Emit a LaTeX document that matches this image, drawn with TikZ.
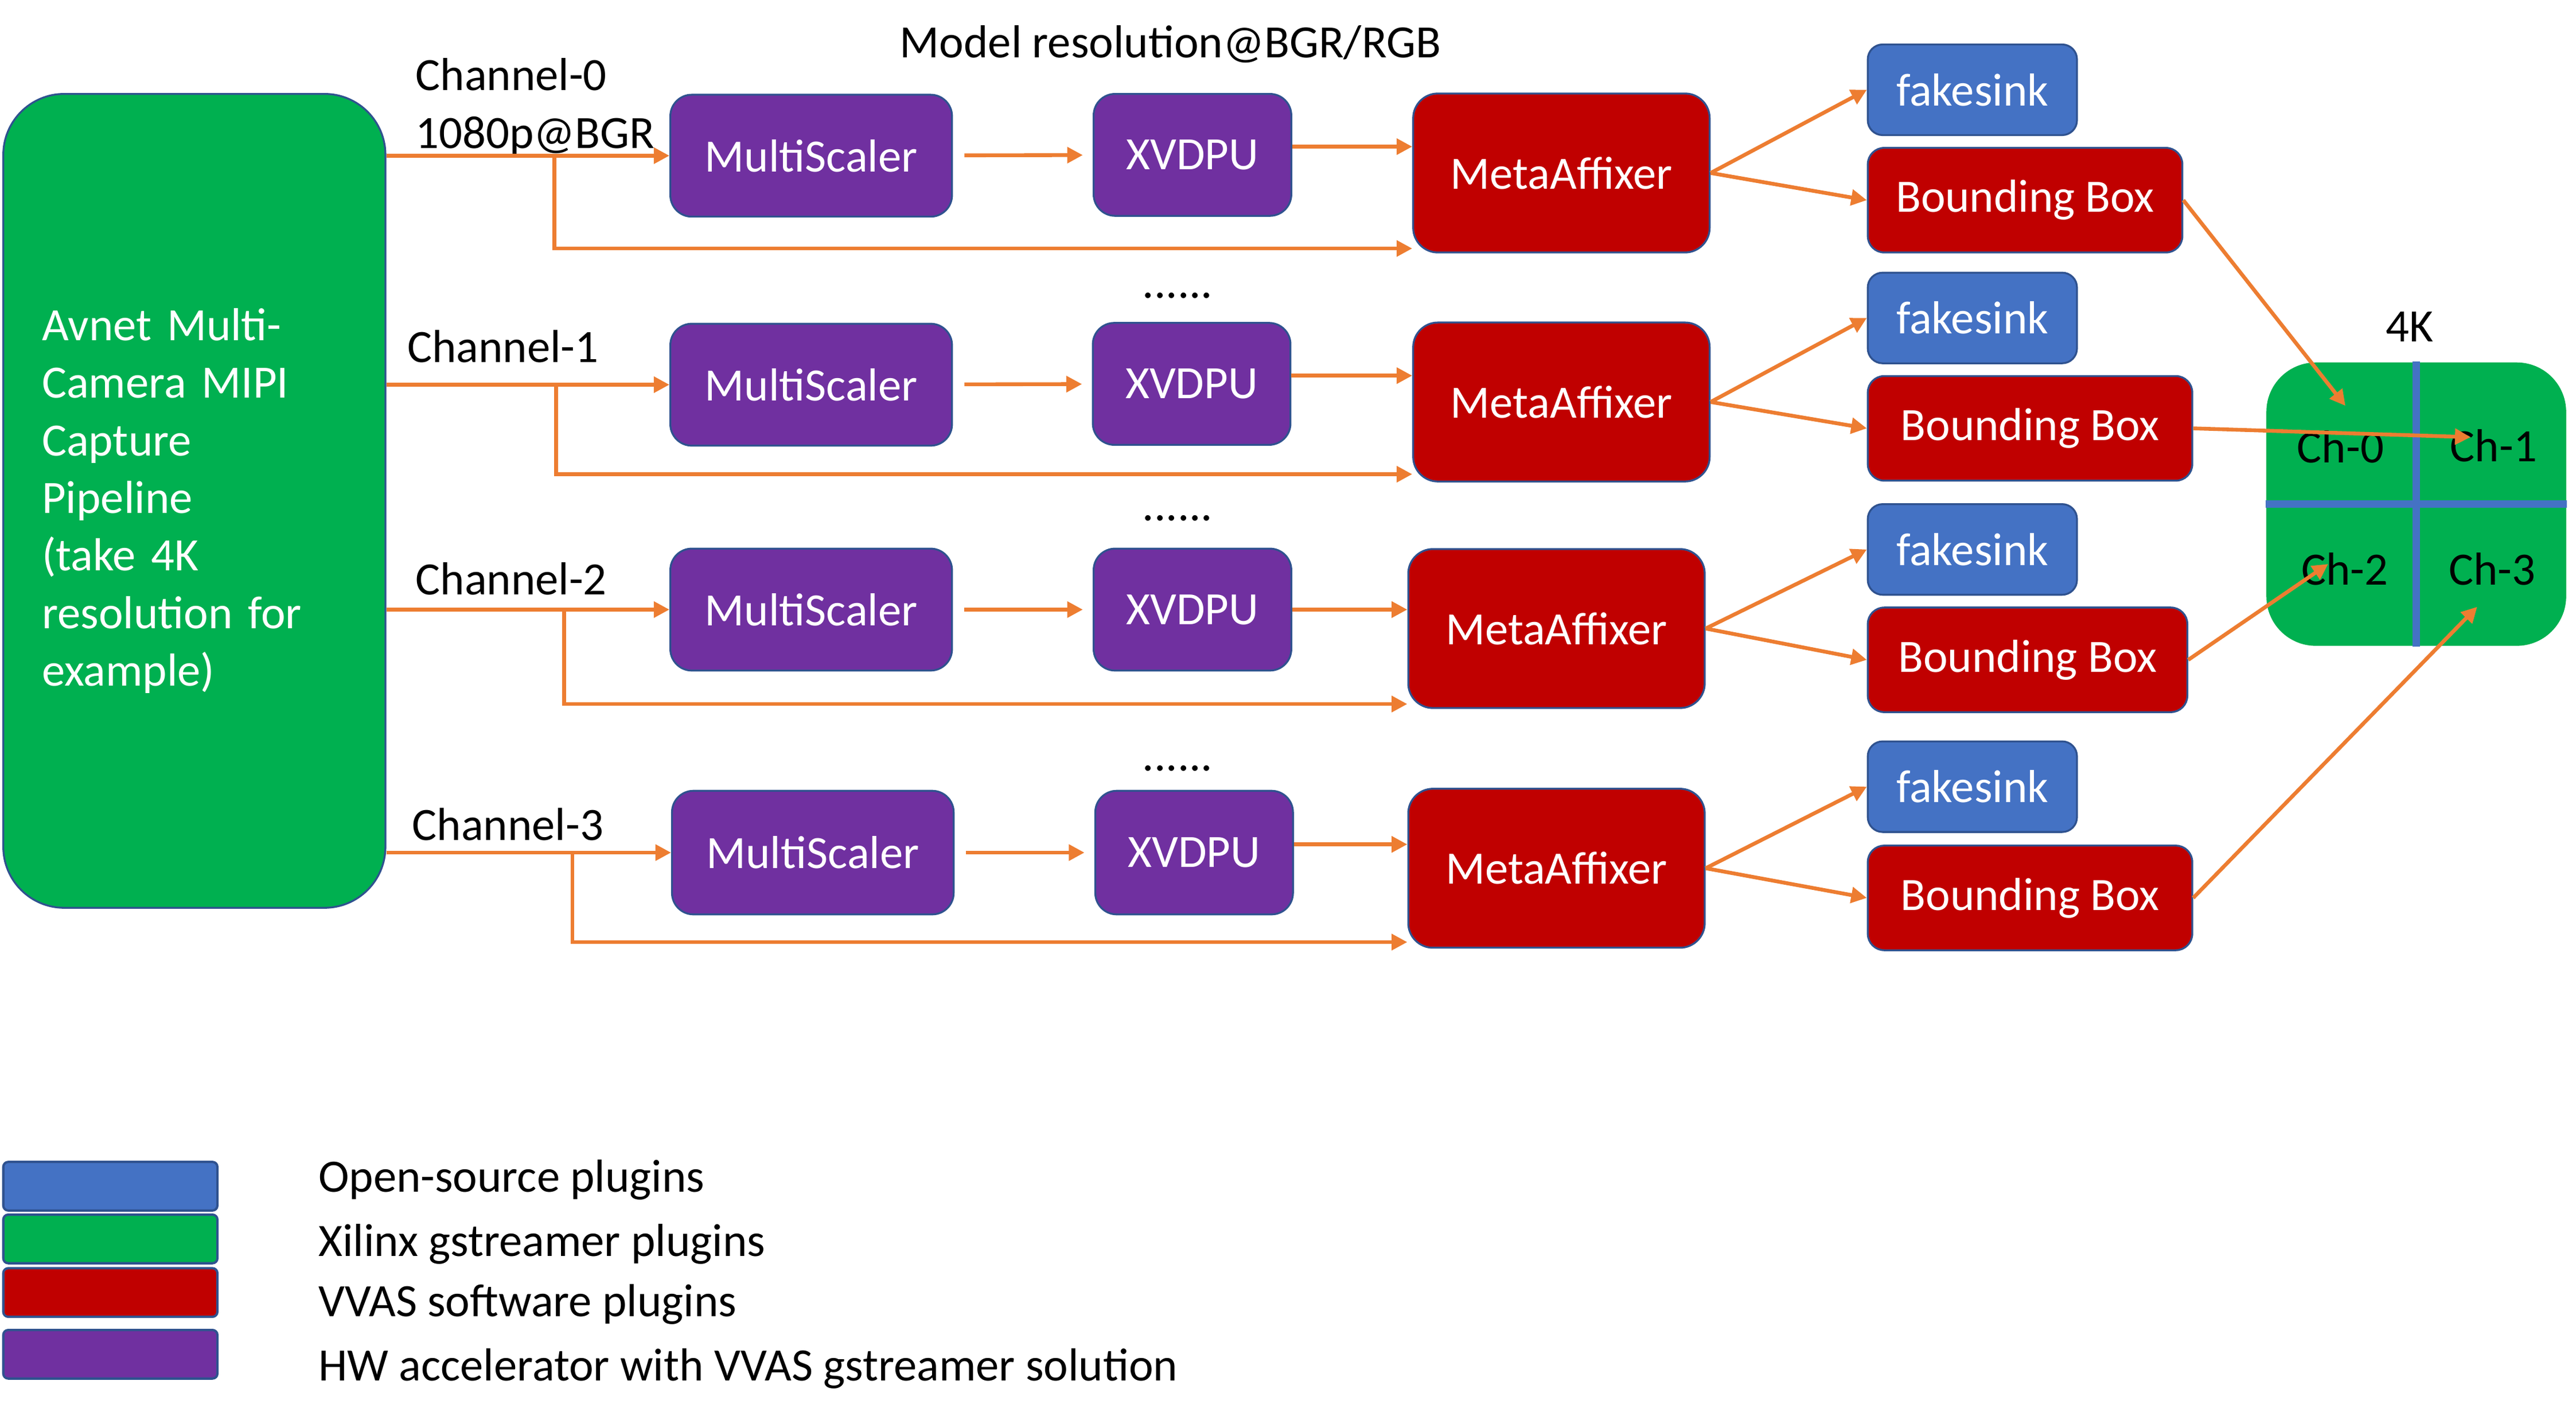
\documentclass[tikz,border=0pt]{standalone}
\usepackage{fontspec}
\setmainfont{Carlito}
\usepackage{xcolor}
\usepackage{tikz}
\usetikzlibrary{positioning, graphs, arrows.meta, calc}
\definecolor{xgreen}{HTML}{00B050}
\definecolor{osblue}{HTML}{4472C4}
\definecolor{vred}{HTML}{C00000}
\definecolor{hwpurple}{HTML}{7030A0}
\definecolor{arrorange}{HTML}{ED7D31}
\definecolor{rimblue}{HTML}{2F528F}
\tikzset{block/.style={
    rectangle,
    draw=rimblue,
    line width=0.65pt,
    inner sep=0pt,
    text=white,
    font=\fontsize{16}{19}\selectfont
}}
\tikzset{hw/.style={block, fill=hwpurple, rounded corners=2.6mm, minimum height=14.8mm}}
\tikzset{sw/.style={block, fill=vred, rounded corners=3mm}}
\tikzset{os/.style={block, fill=osblue, rounded corners=1.8mm, minimum width=25.4mm, minimum height=11mm}}
\tikzset{xlx/.style={block, fill=xgreen}}
\tikzset{lbl/.style={inner sep=0pt, text=black, font=\fontsize{16}{19}\selectfont}}
\tikzset{legendbox/.style={rectangle, draw=rimblue, line width=0.8pt, rounded corners=0.6mm,
    minimum width=26mm, minimum height=5.9mm, inner sep=0pt}}
\tikzset{feed/.style={draw=arrorange, line width=0.46mm, ->}}
\tikzset{msgap/.style={shorten <=1.4mm, shorten >=1.2mm}}
\tikzset{divider/.style={draw=osblue, line width=0.9mm}}

\begin{document}
\begin{tikzpicture}[
    x=0.2mm, y=-0.2mm,
    >={Triangle[length=1.9mm, width=1.9mm]},
]
    \useasboundingbox (0,0) rectangle (1564,857);
    % Source
    \node (src) [xlx, minimum width=46.4mm, minimum height=98.8mm, rounded corners=7.4mm,
        text width=37mm, align=left, font=\fontsize{16}{19.9}\selectfont] at (118,304)
        {Avnet Multi-\\Camera MIPI\\Capture\\Pipeline\\(take 4K\\resolution for\\example)};
    % Channel 0
    \node (ms0) [hw, minimum width=34.2mm] at (492.5,94.5) {MultiScaler};
    \node (xv0) [hw, minimum width=24mm]   at (724,94)     {XVDPU};
    \node (ma0) [sw, minimum width=36mm, minimum height=19.3mm] at (948,105) {MetaAffixer};
    \node (fs0) [os] at (1197.5,54.5) {fakesink};
    \node (bb0) [sw, rounded corners=2mm, minimum width=38.2mm, minimum height=12.7mm] at (1229.5,121.5) {Bounding Box};
    % Channel 1
    \node (ms1) [hw, minimum width=34.2mm] at (492.5,233.5) {MultiScaler};
    \node (xv1) [hw, minimum width=24mm]   at (723.5,233)   {XVDPU};
    \node (ma1) [sw, minimum width=36mm, minimum height=19.3mm] at (948,244) {MetaAffixer};
    \node (fs1) [os] at (1197.5,193) {fakesink};
    \node (bb1) [sw, rounded corners=2mm, minimum width=39.4mm, minimum height=12.7mm] at (1232.5,260) {Bounding Box};
    % Channel 2
    \node (ms2) [hw, minimum width=34.2mm] at (492.5,370) {MultiScaler};
    \node (xv2) [hw, minimum width=24mm]   at (724,370)   {XVDPU};
    \node (ma2) [sw, minimum width=36mm, minimum height=19.3mm] at (945,381.5) {MetaAffixer};
    \node (fs2) [os] at (1197.5,333.5) {fakesink};
    \node (bb2) [sw, rounded corners=2mm, minimum width=38.8mm, minimum height=12.7mm] at (1231,400.5) {Bounding Box};
    % Channel 3
    \node (ms3) [hw, minimum width=34.2mm, minimum height=15mm] at (493.5,517.5) {MultiScaler};
    \node (xv3) [hw, minimum width=24mm, minimum height=15mm]   at (725,517.5)   {XVDPU};
    \node (ma3) [sw, minimum width=36mm, minimum height=19.3mm] at (945,527) {MetaAffixer};
    \node (fs3) [os] at (1197.5,477.5) {fakesink};
    \node (bb3) [sw, rounded corners=2mm, minimum width=39.4mm, minimum height=12.7mm] at (1232.5,545) {Bounding Box};
    % 4K output
    \node (k4) [xlx, draw=none, minimum width=36.4mm, minimum height=34.4mm, rounded corners=6mm] at (1467,306) {};
    \draw [divider] (k4.north) -- (k4.south);
    \draw [divider] (k4.west) -- (k4.east);
    \node (ch0) [lbl, anchor=base] at (1421,281)   {Ch-0};
    \node (ch1) [lbl, anchor=base] at (1514,280)   {Ch-1};
    \node (ch2) [lbl, anchor=base] at (1423.5,355) {Ch-2};
    \node (ch3) [lbl, anchor=base] at (1513,355)   {Ch-3};
    \node (k4lbl) [lbl, anchor=base] at (1463,207.5) {4K};
    % Labels
    \node (model) [lbl, anchor=base west] at (546,35) {Model resolution@BGR/RGB};
    \node (cn0)  [lbl, anchor=base west] at (252,55)  {Channel-0};
    \node (res0) [lbl, anchor=base west] at (252,90)  {1080p@BGR};
    \node (cn1)  [lbl, anchor=base west] at (247,220) {Channel-1};
    \node (cn2)  [lbl, anchor=base west] at (252,361) {Channel-2};
    \node (cn3)  [lbl, anchor=base west] at (250,510) {Channel-3};
    \node (dots1) [lbl, anchor=base] at (715,181) {......};
    \node (dots2) [lbl, anchor=base] at (715,316) {......};
    \node (dots3) [lbl, anchor=base] at (715,468) {......};
    % Flows
    \coordinate (br0) at ($(src.east |- ms0)+(102,0)$);
    \coordinate (br1) at ($(src.east |- ms1)+(103,0)$);
    \coordinate (br2) at ($(src.east |- ms2)+(108,0)$);
    \coordinate (br3) at ($(src.east |- ms3)+(113,0)$);
    \draw [feed] (src.east |- ms0) -- (ms0);
    \draw [feed] (src.east |- ms1) -- (ms1);
    \draw [feed] (src.east |- ms2) -- (ms2);
    \draw [feed] (src.east |- ms3) -- (ms3);
    \graph [use existing nodes, edges={feed}] {
        ms0 -> [msgap] xv0;
        ms1 -> [msgap] xv1;
        ms2 -> [msgap] xv2;
        ms3 -> [msgap] xv3;
    };
    \draw [feed] ([yshift=1mm]xv0.east) -- ([yshift=1mm]xv0.east -| ma0.west);
    \draw [feed] ([yshift=1mm]xv1.east) -- ([yshift=1mm]xv1.east -| ma1.west);
    \draw [feed] (xv2.east) -- (xv2.east -| ma2.west);
    \draw [feed] ([yshift=1mm]xv3.east) -- ([yshift=1mm]xv3.east -| ma3.west);
    \draw [feed] (br0) |- ($(ma0.south west)+(0,-3)$);
    \draw [feed] (br1) |- ($(ma1.south west)+(0,-5)$);
    \draw [feed] (br2) |- ($(ma2.south west)+(0,-3)$);
    \draw [feed] (br3) |- ($(ma3.south west)+(0,-4)$);
    \draw [feed] (ma0.east) -- (fs0.west);
    \draw [feed] (ma0.east) -- (bb0.west);
    \draw [feed] (ma1.east) -- (fs1.west);
    \draw [feed] (ma1.east) -- (bb1.west);
    \draw [feed] (ma2.east) -- (fs2.west);
    \draw [feed] (ma2.east) -- (bb2.west);
    \draw [feed] (ma3.east) -- (fs3.west);
    \draw [feed] (ma3.east) -- (bb3.west);
    \draw [feed] (bb0.east) -- ($(ch0)+(3,-25)$);
    \draw [feed] (bb1.east) -- ($(ch1)+(-14,-5)$);
    \draw [feed] (bb2.east) -- ($(ch2)+(-10,-3)$);
    \draw [feed] (bb3.east) -- ($(ch3)+(-9,23)$);
    % Legend
    \node (lgos)  [legendbox, fill=osblue]   at (67,720)   {};
    \node (lgxlx) [legendbox, fill=xgreen]   at (67,752)   {};
    \node (lgsw)  [legendbox, fill=vred]     at (67,784.5) {};
    \node (lghw)  [legendbox, fill=hwpurple] at (67,822)   {};
    \node (txos)  [lbl, anchor=base west] at (193,723.5) {Open-source plugins};
    \node (txxlx) [lbl, anchor=base west] at (193,762.6) {Xilinx gstreamer plugins};
    \node (txsw)  [lbl, anchor=base west] at (193,799)   {VVAS software plugins};
    \node (txhw)  [lbl, anchor=base west] at (193,838)   {HW accelerator with VVAS gstreamer solution};
\end{tikzpicture}
\end{document}
